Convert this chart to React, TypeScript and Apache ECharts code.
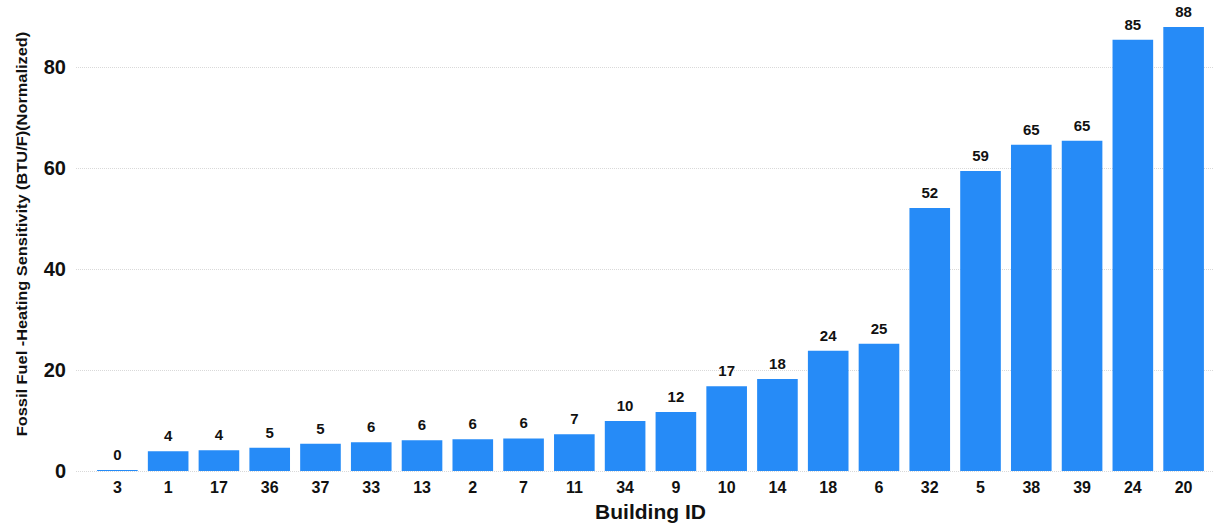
import React, { useEffect, useRef } from "react";
import * as echarts from "echarts";

const buildingIds = ["3", "1", "17", "36", "37", "33", "13", "2", "7", "11", "34", "9", "10", "14", "18", "6", "32", "5", "38", "39", "24", "20"];
const sensitivity = [0.2, 3.9, 4.1, 4.6, 5.4, 5.7, 6.1, 6.3, 6.45, 7.3, 9.9, 11.7, 16.8, 18.2, 23.8, 25.2, 52.1, 59.4, 64.6, 65.4, 85.4, 87.9];
const yTicks = [0, 20, 40, 60, 80];

const yTitle = "Fossil Fuel -Heating Sensitivity (BTU/F)(Normalized)";
const xTitle = "Building ID";
const BAR_COLOR = "#268BF7";
const FONT = "'Liberation Sans', Arial, Helvetica, sans-serif";

export default function App() {
  const ref = useRef<HTMLDivElement>(null);
  useEffect(() => {
    if (!ref.current) return;
    const chart = echarts.init(ref.current, null, { renderer: "svg" });
    const yMin = yTicks[0];
    const yMax = yTicks[yTicks.length - 1];
    const yInterval = yTicks[1] - yTicks[0];
    chart.setOption({
      animation: false,
      backgroundColor: "#ffffff",
      textStyle: { fontFamily: FONT },
      grid: [
        { left: 76, right: 3, top: 67, bottom: 53, outerBoundsMode: "none", containLabel: false },
        { left: 92, right: 7, top: 67, bottom: 53, outerBoundsMode: "none", containLabel: false },
      ],
      xAxis: [
        { type: "value", gridIndex: 0, show: false, min: 0, max: 1 },
        {
          type: "category",
          gridIndex: 1,
          data: buildingIds,
          axisLine: { show: false },
          axisTick: { show: false },
          axisLabel: {
            color: "#111",
            fontWeight: "bold",
            fontSize: 16,
            fontFamily: FONT,
            margin: 8,
            interval: 0,
          },
          name: xTitle,
          nameLocation: "middle",
          nameGap: 30,
          nameTextStyle: { color: "#111", fontWeight: "bold", fontSize: 21, fontFamily: FONT },
        },
      ],
      yAxis: [
        {
          type: "value",
          gridIndex: 0,
          min: yMin,
          max: yMax,
          interval: yInterval,
          axisLine: { show: false },
          axisTick: { show: false },
          axisLabel: { color: "#111", fontWeight: "bold", fontSize: 20, fontFamily: FONT, margin: 10 },
          splitLine: { show: true, lineStyle: { color: "#d9d9d9", type: "dotted", width: 1 } },
        },
        { type: "value", gridIndex: 1, min: yMin, max: yMax, interval: yInterval, show: false, splitLine: { show: false } },
      ],
      graphic: [
        {
          type: "text",
          x: 22,
          y: 234,
          rotation: Math.PI / 2,
          scaleX: 1.17,
          style: {
            text: yTitle,
            fill: "#111",
            font: `bold 14px ${FONT}`,
            textAlign: "center",
            textVerticalAlign: "middle",
          },
        },
      ],
      series: [
        {
          type: "bar",
          xAxisIndex: 1,
          yAxisIndex: 1,
          data: sensitivity,
          barWidth: "80%",
          clip: false,
          itemStyle: { color: BAR_COLOR },
          label: {
            show: true,
            position: "top",
            distance: 8,
            color: "#111",
            fontWeight: "bold",
            fontSize: 15,
            fontFamily: FONT,
            formatter: (p: any) => String(Math.round(p.value)),
          },
        },
      ],
    });
    return () => chart.dispose();
  }, []);
  return (
    <div
      ref={ref}
      style={{ position: "fixed", left: 0, top: 0, width: 1216, height: 524 }}
    />
  );
}
